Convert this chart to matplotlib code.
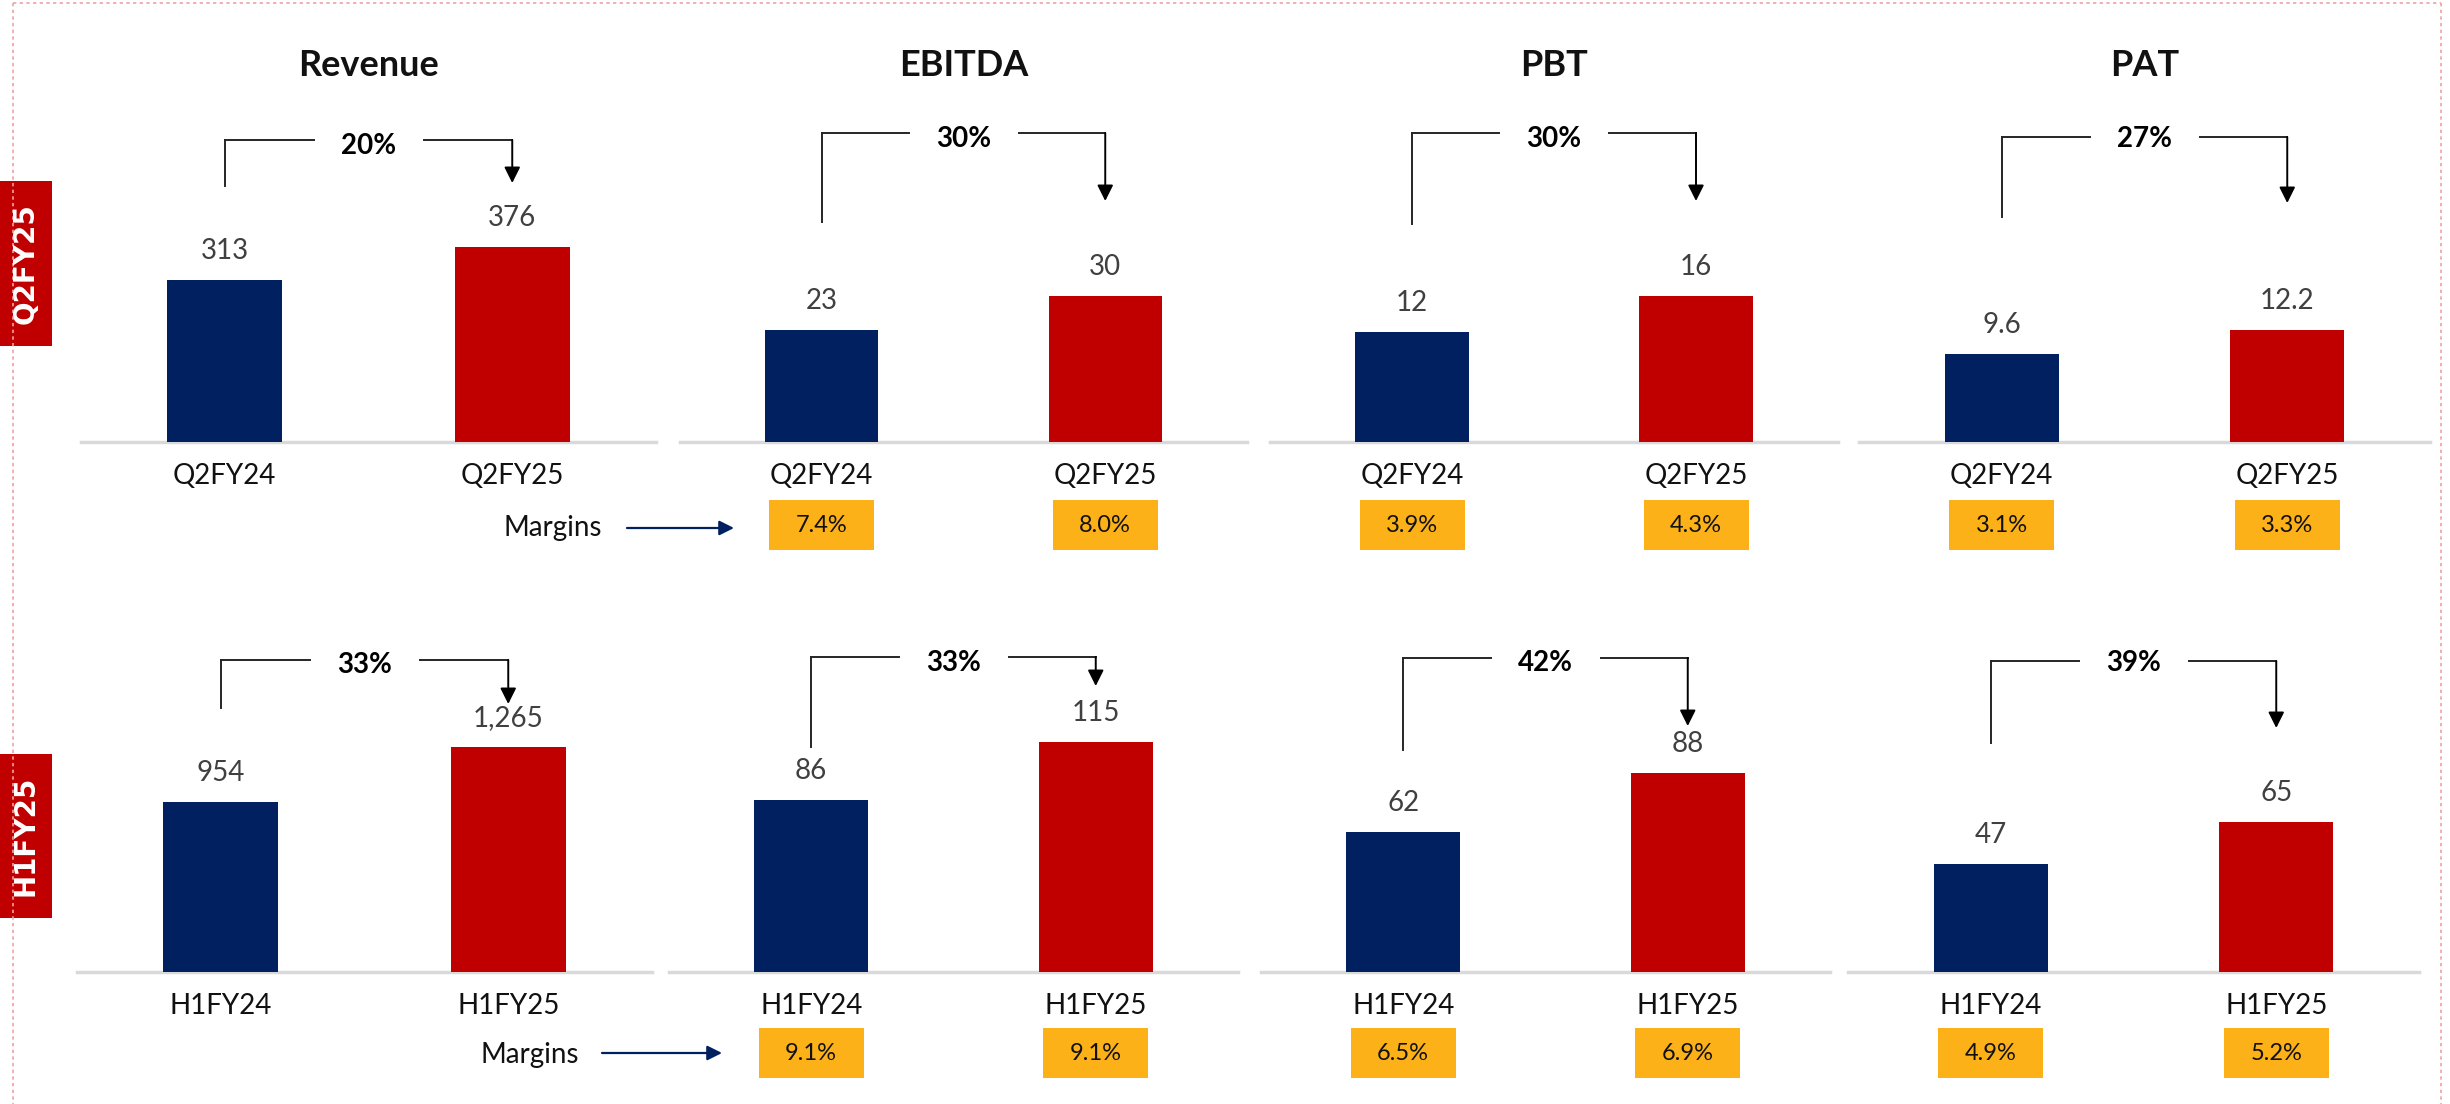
import matplotlib
matplotlib.use("Agg")
import matplotlib.pyplot as plt
from matplotlib.patches import Rectangle
from matplotlib.lines import Line2D
from matplotlib.transforms import blended_transform_factory

plt.rcParams['font.family'] = ['Lato', 'DejaVu Sans']

# ---- data ----
metrics = ['Revenue', 'EBITDA', 'PBT', 'PAT']

q2_periods = ['Q2FY24', 'Q2FY25']
q2_prev = [313, 23, 12, 9.6]
q2_curr = [376, 30, 16, 12.2]
q2_growth = ['20%', '30%', '30%', '27%']
q2_margin_prev = [None, 7.4, 3.9, 3.1]
q2_margin_curr = [None, 8.0, 4.3, 3.3]

h1_periods = ['H1FY24', 'H1FY25']
h1_prev = [954, 86, 62, 47]
h1_curr = [1265, 115, 88, 65]
h1_growth = ['33%', '33%', '42%', '39%']
h1_margin_prev = [None, 9.1, 6.5, 4.9]
h1_margin_curr = [None, 9.1, 6.9, 5.2]

# ---- styling ----
NAVY = '#002060'
RED = '#C00000'
AMBER = '#FBB117'
GREY_TXT = '#404040'
LINE = '#262626'

W, H = 2450, 1104
fig = plt.figure(figsize=(W / 100, H / 100), dpi=100)


def fx(x):
    return x / W


def fy(y):
    return 1 - y / H


rows = [
    dict(tag='Q2FY25', periods=q2_periods, prev=q2_prev, curr=q2_curr,
         growth=q2_growth, mprev=q2_margin_prev, mcurr=q2_margin_curr,
         base=442, top=100,
         lefts=[81, 680, 1270, 1859], rights=[656, 1247, 1838, 2430],
         ymax=[661, 70.5, 37.4, 37.4],
         # bracket: top line, left foot, arrow tip, label y (px)
         bracket=[(140, 186, 183, 146), (133, 222, 201, 139),
                  (133, 224, 201, 139), (137, 217, 203, 139)],
         tag_box=(181, 346), box_top=500,
         margins_xy=(553, 528), margins_arrow=(627, 734, 528)),
    dict(tag='H1FY25', periods=h1_periods, prev=h1_prev, curr=h1_curr,
         growth=h1_growth, mprev=h1_margin_prev, mcurr=h1_margin_curr,
         base=972, top=620,
         lefts=[77, 669, 1261, 1848], rights=[652, 1238, 1830, 2419],
         ymax=[1980, 176, 156, 153],
         bracket=[(660, 708, 704, 665), (657, 747, 686, 663),
                  (658, 750, 726, 663), (661, 743, 728, 663)],
         tag_box=(754, 918), box_top=1028,
         margins_xy=(530, 1055), margins_arrow=(602, 722, 1053)),
]

for r_i, row in enumerate(rows):
    base, top = row['base'], row['top']
    span = base - top

    def afy(y):
        return (base - y) / span

    for i, metric in enumerate(metrics):
        left, right = row['lefts'][i], row['rights'][i]
        ax = fig.add_axes([fx(left), fy(base), (right - left) / W, span / H])
        vals = [row['prev'][i], row['curr'][i]]
        ax.bar([0, 1], vals, width=0.4, color=[NAVY, RED], zorder=3)
        ax.set_xlim(-0.5, 1.5)
        ax.set_ylim(0, row['ymax'][i])
        for s in ['top', 'left', 'right']:
            ax.spines[s].set_visible(False)
        ax.spines['bottom'].set_color('#D9D9D9')
        ax.spines['bottom'].set_linewidth(2.5)
        ax.set_yticks([])
        ax.set_xticks([0, 1])
        ax.set_xticklabels(row['periods'], fontsize=20, color='#111111')
        ax.tick_params(axis='x', length=0, pad=15)
        ax.patch.set_alpha(0)

        for x, v in zip([0, 1], vals):
            ax.annotate(f'{v:,}', (x, v), xytext=(0, 21), textcoords='offset points',
                        ha='center', va='center', fontsize=20, color=GREY_TXT)

        if r_i == 0:
            ax.text(0.5, afy(66), metric, transform=blended_transform_factory(ax.transData, ax.transAxes),
                    ha='center', va='center', fontsize=26, fontweight='bold', color='#111111')

        # growth bracket with arrow
        tr = blended_transform_factory(ax.transData, ax.transAxes)
        t_y, foot, tip, lab_y = row['bracket'][i]
        gap = 55 / (right - left) * 2
        ax.add_line(Line2D([0, 0], [afy(foot), afy(t_y)], transform=tr, color=LINE, lw=1.4, clip_on=False))
        ax.add_line(Line2D([0, 0.5 - gap], [afy(t_y)] * 2, transform=tr, color=LINE, lw=1.4, clip_on=False))
        ax.add_line(Line2D([0.5 + gap, 1], [afy(t_y)] * 2, transform=tr, color=LINE, lw=1.4, clip_on=False))
        ax.annotate('', xy=(1, afy(tip)), xytext=(1, afy(t_y)), xycoords=tr, textcoords=tr,
                    arrowprops=dict(arrowstyle='-|>', color='black', lw=1.4,
                                    mutation_scale=24, shrinkA=0, shrinkB=0),
                    annotation_clip=False)
        ax.text(0.5, afy(lab_y), row['growth'][i], transform=tr, ha='center', va='center',
                fontsize=20, fontweight='bold', color='black')

        # margin badges
        bw = 105 / (right - left) * 2
        bh = 50 / span
        for x, m in zip([0, 1], [row['mprev'][i], row['mcurr'][i]]):
            if m is None:
                continue
            by = afy(row['box_top'] + 50)
            ax.add_patch(Rectangle((x - bw / 2, by), bw, bh, transform=tr,
                                   facecolor=AMBER, edgecolor='none', clip_on=False))
            ax.text(x, by + bh / 2, f'{m:.1f}%', transform=tr, ha='center', va='center',
                    fontsize=17, color='#111111')

    # "Margins" pointer
    mx, my = row['margins_xy']
    fig.text(fx(mx), fy(my), 'Margins', ha='center', va='center', fontsize=20, color='#111111')
    ax0, ax1, ay = row['margins_arrow']
    fig.patches.append(matplotlib.patches.FancyArrowPatch(
        (fx(ax0), fy(ay)), (fx(ax1), fy(ay)), transform=fig.transFigure,
        arrowstyle='-|>', mutation_scale=22, color=NAVY, lw=1.6, shrinkA=0, shrinkB=0))

    # row tag on the left edge
    y0, y1 = row['tag_box']
    fig.patches.append(Rectangle((0, fy(y1)), fx(52), (y1 - y0) / H, transform=fig.transFigure,
                                 facecolor=RED, edgecolor='none'))
    fig.text(fx(26), fy((y0 + y1) / 2), row['tag'], rotation=90, ha='center', va='center',
             fontsize=20, fontweight='bold', color='white', family='DejaVu Sans')

# dotted frame
frame = dict(color='#EFA3A3', lw=1.2, linestyle=(0, (2, 2)), transform=fig.transFigure)
fig.add_artist(Line2D([fx(13), fx(2441)], [fy(3), fy(3)], **frame))
fig.add_artist(Line2D([fx(13), fx(13)], [fy(3), 0], **frame))
fig.add_artist(Line2D([fx(2441), fx(2441)], [fy(3), 0], **frame))

fig.savefig('out.png', dpi=100, facecolor='white')
